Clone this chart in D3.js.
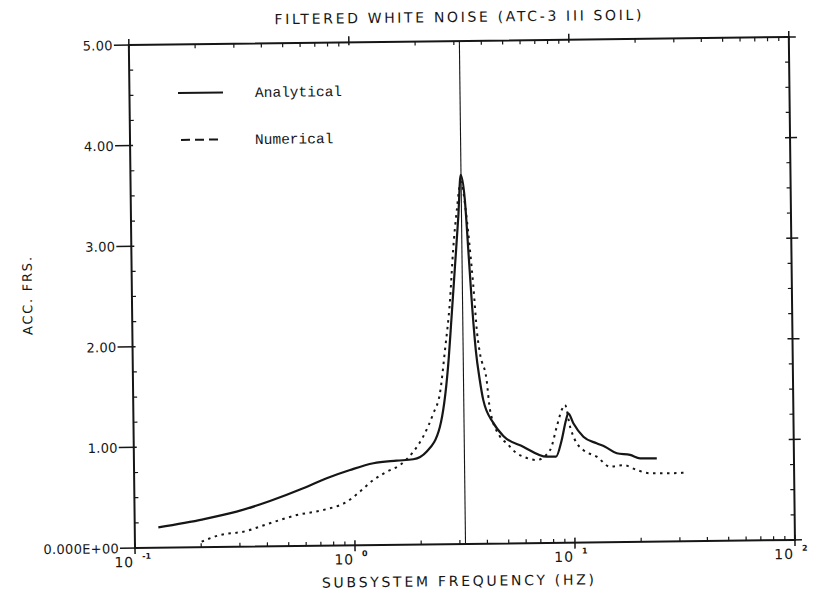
<!DOCTYPE html>
<html>
<head>
<meta charset="utf-8">
<script src="https://cdn.jsdelivr.net/npm/d3@7"></script>
<style>
  html, body { margin: 0; padding: 0; background: #fff; }
  svg { display: block; }
</style>
</head>
<body>
<svg id="chart" width="813" height="609"></svg>
<script>
// ---------------- DATA ----------------
const chartTitle = "FILTERED WHITE NOISE (ATC-3 III SOIL)";
const xAxisTitle = "SUBSYSTEM FREQUENCY (HZ)";
const yAxisTitle = "ACC.  FRS.";
const seriesNames = ["Analytical", "Numerical"];

const analyticalFreq  = [0.128, 0.205, 0.291, 0.413, 0.586, 0.750, 0.959, 1.225, 1.563, 1.862, 2.14, 2.47, 2.71, 2.83, 2.95, 3.075, 3.17,
                         3.30, 3.40, 3.50, 3.63, 3.77, 3.90, 4.32, 4.79, 5.89, 7.51, 8.29, 8.82, 9.25, 9.48, 9.98, 11.07, 12.7, 13.87, 15.68, 18.0, 19.98, 23.8];
const analyticalValue = [0.203, 0.277, 0.349, 0.451, 0.573, 0.670, 0.749, 0.813, 0.836, 0.848, 0.921, 1.169, 1.764, 2.26, 2.757, 3.254, 3.67,
                         3.42, 2.92, 2.42, 1.926, 1.628, 1.43, 1.20, 1.069, 0.96, 0.858, 0.857, 1.022, 1.22, 1.286, 1.187, 1.052, 0.985, 0.950, 0.883, 0.865, 0.830, 0.828];

const numericalFreq  = [0.201, 0.244, 0.311, 0.412, 0.546, 0.721, 0.923, 1.061, 1.222, 1.407, 1.62, 1.864, 2.07, 2.31, 2.48, 2.63, 2.79, 2.90, 3.03, 3.17,
                        3.35, 3.46, 3.56, 3.69, 3.79, 4.05, 4.18, 4.63, 4.96, 5.50, 5.89, 6.78, 7.80, 8.39, 8.85, 9.17, 9.64, 10.13, 11.04, 12.7, 14.6, 16.76, 19.3, 22.1, 26.4, 32.5];
const numericalValue = [0.055, 0.119, 0.149, 0.230, 0.308, 0.355, 0.434, 0.533, 0.647, 0.727, 0.793, 0.923, 1.072, 1.303, 1.50, 1.93, 2.427, 2.923, 3.32, 3.60,
                        3.253, 2.92, 2.59, 2.09, 1.894, 1.627, 1.33, 1.062, 0.996, 0.895, 0.861, 0.826, 0.923, 1.155, 1.32, 1.37, 1.153, 1.02, 0.92, 0.852, 0.75, 0.765, 0.714, 0.68, 0.678, 0.682];

const resonanceFreq = 3.18;

const yTickValues = [0, 1, 2, 3, 4, 5];
const yTickLabels = ["0.000E+00", "1.00", "2.00", "3.00", "4.00", "5.00"];
const xDecades   = [0.1, 1, 10, 100];
const xExponents = ["-1", "0", "1", "2"];

// ---------------- LAYOUT ----------------
const L = 135, R = 795, T = 45, B = 548;
const tilt = -0.7;                    // slight skew of the scanned page (degrees)
const k = -Math.sin(tilt * Math.PI / 180);
// convert an observed page position into the tilted drawing frame
function unrot(xo, yo) { return [xo + k * (B - yo), yo + k * (xo - L)]; }

const svg = d3.select("#chart");
const g = svg.append("g").attr("transform", `rotate(${tilt},${L},${B})`);

const x = d3.scaleLog().domain([0.1, 100]).range([L, R]);
const y = d3.scaleLinear().domain([0, 5]).range([B, T]);

const ink = "#161616";
const sans = "'DejaVu Sans', sans-serif";

// ---------------- FRAME ----------------
g.append("rect").attr("x", L).attr("y", T).attr("width", R - L).attr("height", B - T)
  .attr("fill", "none").attr("stroke", ink).attr("stroke-width", 2);

const allXTicks = x.ticks();
const minorX = allXTicks.filter(t => !xDecades.some(d => Math.abs(d - t) < 1e-9));

// bottom axis
g.selectAll(".bminor").data(minorX).join("line")
  .attr("x1", d => x(d)).attr("x2", d => x(d)).attr("y1", B).attr("y2", B - 4)
  .attr("stroke", ink).attr("stroke-width", 1.2);
g.selectAll(".bmajor").data(xDecades).join("line")
  .attr("x1", d => x(d)).attr("x2", d => x(d)).attr("y1", B - 5).attr("y2", B + 6)
  .attr("stroke", ink).attr("stroke-width", 1.5);
// top axis
g.selectAll(".tminor").data(minorX).join("line")
  .attr("x1", d => x(d)).attr("x2", d => x(d)).attr("y1", T).attr("y2", T + 4)
  .attr("stroke", ink).attr("stroke-width", 1.2);
g.selectAll(".tmajor").data(xDecades).join("line")
  .attr("x1", d => x(d)).attr("x2", d => x(d)).attr("y1", T - 6).attr("y2", T + 3)
  .attr("stroke", ink).attr("stroke-width", 1.5);

const yMinor = d3.range(0.25, 5, 0.25).filter(v => Math.abs(v - Math.round(v)) > 1e-9);
// left axis
g.selectAll(".lminor").data(yMinor).join("line")
  .attr("x1", L).attr("x2", L + 4).attr("y1", d => y(d)).attr("y2", d => y(d))
  .attr("stroke", ink).attr("stroke-width", 1.2);
g.selectAll(".lmajor").data(yTickValues).join("line")
  .attr("x1", L - 15).attr("x2", L + 3).attr("y1", d => y(d)).attr("y2", d => y(d))
  .attr("stroke", ink).attr("stroke-width", 1.5);
// right axis
g.selectAll(".rminor").data(yMinor).join("line")
  .attr("x1", R).attr("x2", R - 4).attr("y1", d => y(d)).attr("y2", d => y(d))
  .attr("stroke", ink).attr("stroke-width", 1.2);
g.selectAll(".rmajor").data(yTickValues).join("line")
  .attr("x1", R - 5).attr("x2", R + 7).attr("y1", d => y(d)).attr("y2", d => y(d))
  .attr("stroke", ink).attr("stroke-width", 1.5);

// y tick labels
g.selectAll(".ylab").data(yTickValues).join("text")
  .attr("x", L - 16).attr("y", d => y(d) + 5)
  .attr("text-anchor", "end")
  .attr("font-family", sans).attr("font-size", 13).attr("letter-spacing", 0.3)
  .attr("fill", ink)
  .text((d, i) => yTickLabels[i]);

// x tick labels (10 with superscript exponent)
const xl = g.selectAll(".xlab").data(xDecades).join("g");
xl.append("text")
  .attr("x", d => x(d) - 1).attr("y", B + 19)
  .attr("text-anchor", "end")
  .attr("font-family", sans).attr("font-size", 14).attr("letter-spacing", 1)
  .attr("fill", ink).text("10");
xl.append("text")
  .attr("x", d => x(d) + 7).attr("y", B + 11)
  .attr("text-anchor", "start")
  .attr("font-family", sans).attr("font-size", 8).attr("font-weight", "bold")
  .attr("fill", ink).text((d, i) => xExponents[i]);

// ---------------- VERTICAL RESONANCE LINE ----------------
g.append("line")
  .attr("x1", x(resonanceFreq)).attr("x2", x(resonanceFreq))
  .attr("y1", T).attr("y2", B)
  .attr("stroke", ink).attr("stroke-width", 1.1);

// ---------------- CURVES ----------------
const line = d3.line().x(d => x(d[0])).y(d => y(d[1])).curve(d3.curveMonotoneX);
const aData = analyticalFreq.map((f, i) => [f, analyticalValue[i]]);
const nData = numericalFreq.map((f, i) => [f, numericalValue[i]]);

g.append("path").datum(nData).attr("d", line)
  .attr("fill", "none").attr("stroke", ink).attr("stroke-width", 2)
  .attr("stroke-dasharray", "2.5,4.5");
g.append("path").datum(aData).attr("d", line)
  .attr("fill", "none").attr("stroke", ink).attr("stroke-width", 2.2)
  .attr("stroke-linejoin", "round");

// ---------------- LEGEND ----------------
const mono = "'Liberation Mono', 'DejaVu Sans Mono', monospace";
const lg1 = unrot(178, 93), lg2 = unrot(178, 140);
g.append("line").attr("x1", lg1[0]).attr("x2", lg1[0] + 45).attr("y1", lg1[1]).attr("y2", lg1[1])
  .attr("stroke", ink).attr("stroke-width", 2);
g.append("line").attr("x1", lg2[0] + 3).attr("x2", lg2[0] + 45).attr("y1", lg2[1]).attr("y2", lg2[1])
  .attr("stroke", ink).attr("stroke-width", 2).attr("stroke-dasharray", "9,5");
g.append("text").attr("x", lg1[0] + 77).attr("y", lg1[1] + 5)
  .attr("font-family", mono).attr("font-size", 14.5).attr("fill", ink).text(seriesNames[0]);
g.append("text").attr("x", lg2[0] + 77).attr("y", lg2[1] + 5)
  .attr("font-family", mono).attr("font-size", 14.5).attr("fill", ink).text(seriesNames[1]);

// ---------------- TITLES ----------------
const tp = unrot(458, 22);
g.append("text").attr("x", tp[0]).attr("y", tp[1])
  .attr("text-anchor", "middle").attr("font-family", sans).attr("font-size", 14)
  .attr("textLength", 367).attr("lengthAdjust", "spacing")
  .attr("fill", ink).text(chartTitle);

const xp = unrot(458, 586);
g.append("text").attr("x", xp[0]).attr("y", xp[1])
  .attr("text-anchor", "middle").attr("font-family", sans).attr("font-size", 14)
  .attr("textLength", 272).attr("lengthAdjust", "spacing")
  .attr("fill", ink).text(xAxisTitle);

const yp = unrot(32, 296);
g.append("text").attr("transform", `translate(${yp[0]},${yp[1]}) rotate(-90)`)
  .attr("text-anchor", "middle").attr("font-family", sans).attr("font-size", 13)
  .attr("textLength", 78).attr("lengthAdjust", "spacing")
  .attr("fill", ink).text(yAxisTitle);
</script>
</body>
</html>
